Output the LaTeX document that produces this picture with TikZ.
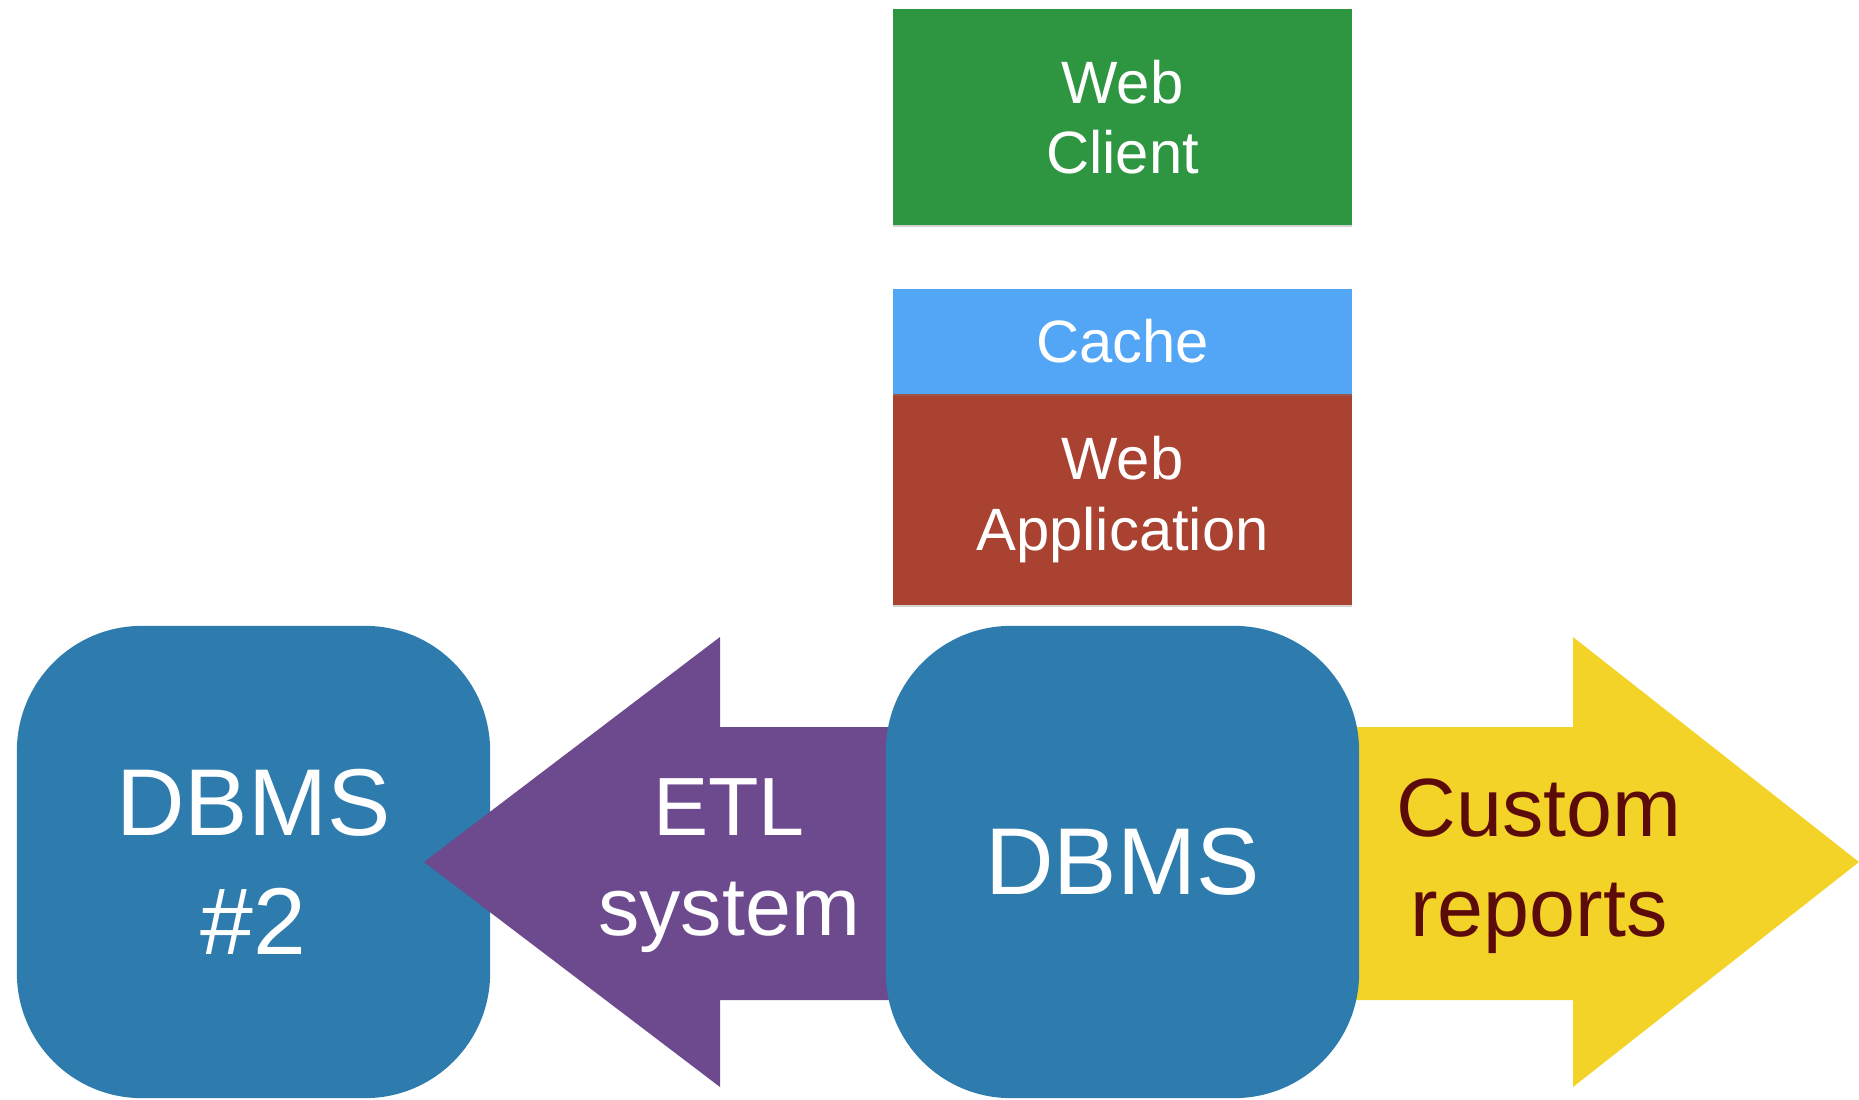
\documentclass[tikz,border=0pt]{standalone}
\usepackage{fontspec}
\setmainfont{Liberation Sans}
\usetikzlibrary{shadows}

\definecolor{clientgreen}{HTML}{2E9641}
\definecolor{cacheblue}{HTML}{52A6F5}
\definecolor{appred}{HTML}{AA4231}
\definecolor{dbblue}{HTML}{2E7CAD}
\definecolor{etlpurple}{HTML}{6D4A8D}
\definecolor{repyellow}{HTML}{F4D329}
\definecolor{repbrown}{HTML}{5C0B0B}

\tikzset{
  tier/.style={rectangle, minimum width=4.59cm, text=white, align=center,
    inner sep=0pt, font=\fontsize{17}{20}\selectfont,
    drop shadow={shadow xshift=0pt, shadow yshift=-0.6pt, opacity=0.35}},
  dbbox/.style={rectangle, rounded corners=1.25cm, fill=dbblue, text=white,
    minimum width=4.73cm, minimum height=4.72cm, align=center,
    font=\fontsize{27}{34}\selectfont},
  flowtext/.style={align=center, font=\fontsize{23.5}{28.5}\selectfont}
}

\begin{document}
\begin{tikzpicture}[x=0.01cm, y=-0.01cm]

\useasboundingbox (0,0) rectangle (1859,1100);

% second database sits under the etl arrow
\node [dbbox] (dbms2) at (253.5,862) {DBMS\\\#2};

% arrows go under the main database
\fill [etlpurple] (424,862) -- (720,637) -- (720,727) -- (1122,727) -- (1122,1000)
  -- (720,1000) -- (720,1087) -- cycle; %etl
\fill [repyellow] (1859,862) -- (1573,637) -- (1573,727) -- (1122,727) -- (1122,1000)
  -- (1573,1000) -- (1573,1087) -- cycle; %reports

\node [flowtext, text=white] (etl) at (729,866) {ETL\\system};
\node [flowtext, text=repbrown] (reports) at (1539,866) {Custom\\reports};

% web stack
\node [tier, fill=clientgreen, minimum height=2.15cm] (client) at (1122.5,117) {Web\\Client};
\node [tier, fill=appred, minimum height=2.11cm] (webapp) at (1122.5,499.5) {Web\\Application};
\node [tier, fill=cacheblue, minimum height=1.05cm] (cache) at (1122.5,341.5) {Cache};

% main database
\node [dbbox] (dbms) at (1122.5,862) {DBMS};

\end{tikzpicture}
\end{document}
